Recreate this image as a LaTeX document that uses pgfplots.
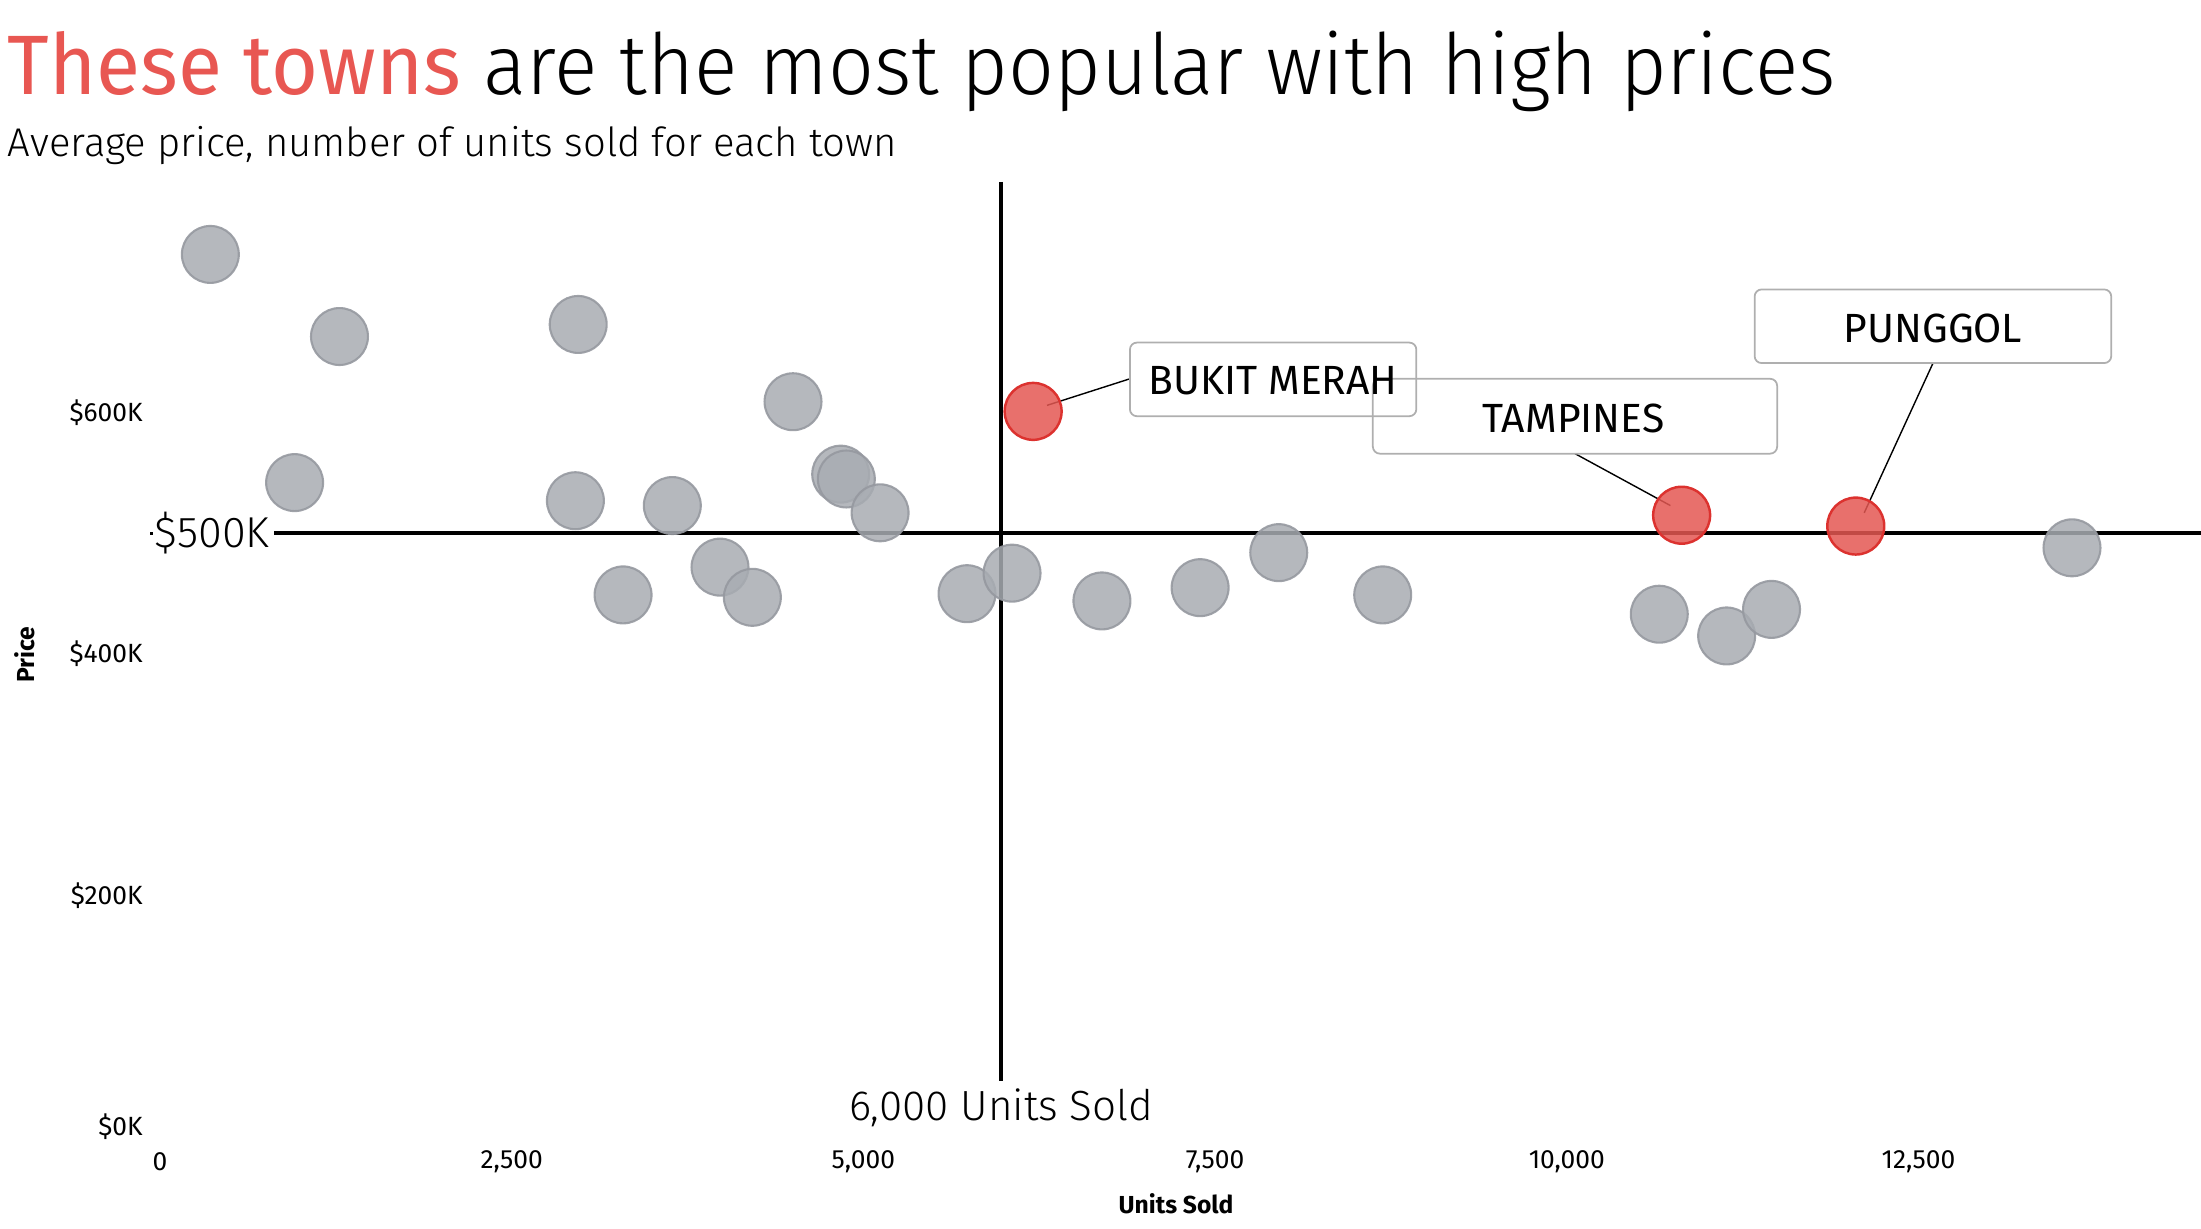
\documentclass[border=0pt]{standalone}
\usepackage{pgfplots}
\pgfplotsset{compat=1.18}
\usepackage{fontspec}
\setmainfont{Fira Sans}
\newfontfamily\lightfont{Fira Sans Light}
\newfontfamily\regfont{Fira Sans}
\definecolor{titlered}{RGB}{232,87,82}
\definecolor{dotgray}{RGB}{168,172,178}
\definecolor{dotgraye}{RGB}{150,153,160}
\definecolor{dotred}{RGB}{228,87,82}
\definecolor{dotrede}{RGB}{220,50,47}
\definecolor{boxgray}{RGB}{175,175,175}
\begin{document}
\begin{tikzpicture}
\useasboundingbox (0,0) rectangle (22.01cm,12.29cm);
\node[anchor=base west, inner sep=0] at (0.07cm,11.34cm) {\scalebox{0.955}[1]{\lightfont\fontsize{24}{28}\selectfont \textcolor{titlered}{\regfont These towns} are the most popular with high prices}};
\node[anchor=base west, inner sep=0] at (0.07cm,10.72cm) {\lightfont\fontsize{11.4}{13}\selectfont Average price, number of units sold for each town};
\begin{axis}[
  at={(1.50cm,0.92cm)}, anchor=south west,
  scale only axis, width=20.51cm, height=9.55cm,
  xmin=-50, xmax=14530, ymin=0, ymax=791000,
  axis line style={draw=none}, major tick length=0,
  scaled ticks=false, clip=false,
  xtick={0,2500,5000,7500,10000,12500},
  xticklabels={0,{2,500},{5,000},{7,500},{10,000},{12,500}},
  ytick={0,200000,400000,600000},
  yticklabels={\raisebox{0.25cm}{\$0K},\$200K,\$400K,\$600K},
  ticklabel style={font=\fontsize{7.5}{9}\selectfont},
  xticklabel style={anchor=center, yshift=-0.25cm, xshift=0.03cm},
  yticklabel style={anchor=east, xshift=0.05cm},
]
% reference lines
\draw[line width=1.1pt] (axis cs:832,500000) -- (axis cs:14530,500000);
\draw[line width=0.8pt] (axis cs:-50,500000) -- (axis cs:-30,500000);
\node[font=\lightfont\fontsize{12.3}{14}\selectfont] at (axis cs:391,500000) {\$500K};
\draw[line width=1.1pt] (axis cs:6000,791000) -- (axis cs:6000,46000);
\node[font=\lightfont\fontsize{12}{14}\selectfont] at (axis cs:6000,24000) {6,000 Units Sold};
% points
\addplot[only marks, mark=*, mark size=8.1pt,
  mark options={fill=dotgray, draw=dotgraye, line width=0.6pt, fill opacity=0.85, draw opacity=0.9}]
coordinates {
(379,731000) (1297,663000) (2994,673000) (4521,609000) (978,542000)
(2974,527000) (3663,523000) (4860,549000) (4900,545000) (5140,517000)
(3313,449000) (4002,472000) (4232,447000) (5758,450000) (6078,467000)
(6717,444000) (7415,455000) (7974,484000) (8713,449000) (10679,433000)
(11158,415000) (11477,437000) (13613,488000)
};
\addplot[only marks, mark=*, mark size=8.1pt,
  mark options={fill=dotred, draw=dotrede, line width=0.7pt, fill opacity=0.85}]
coordinates {
(6228,601000) (10838,515000) (12076,506000)
};
% annotations
\draw[line width=0.4pt] (axis cs:6916,628000) -- (axis cs:6327,606000);
\draw[line width=0.4pt] (axis cs:10080,566000) -- (axis cs:10758,523000);
\draw[line width=0.4pt] (axis cs:12625,641000) -- (axis cs:12136,517000);
\draw[rounded corners=2pt, draw=boxgray, line width=0.5pt] (axis cs:6916,597000) rectangle (axis cs:8952,658000);
\draw[rounded corners=2pt, draw=boxgray, line width=0.5pt] (axis cs:8643,566000) rectangle (axis cs:11517,628000);
\draw[rounded corners=2pt, draw=boxgray, line width=0.5pt] (axis cs:11357,641000) rectangle (axis cs:13892,702000);
\node[font=\regfont\fontsize{11.6}{13}\selectfont] at (axis cs:7934,626000) {BUKIT MERAH};
\node[font=\regfont\fontsize{11.6}{13}\selectfont] at (axis cs:10070,595000) {TAMPINES};
\node[font=\regfont\fontsize{11.6}{13}\selectfont] at (axis cs:12625,670000) {PUNGGOL};
\end{axis}
\node[rotate=90, font=\bfseries\fontsize{7}{8}\selectfont] at (0.25cm,5.74cm) {Price};
\node[font=\bfseries\fontsize{7}{8}\selectfont] at (11.76cm,0.25cm) {Units Sold};
\end{tikzpicture}
\end{document}
